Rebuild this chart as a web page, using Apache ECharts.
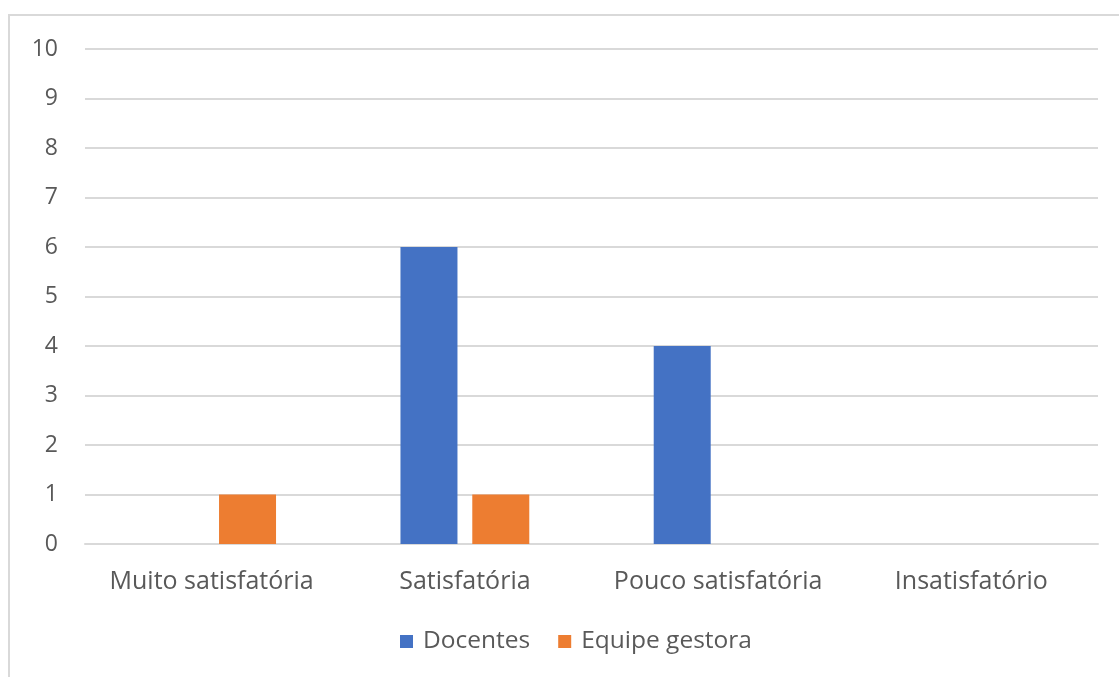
<!DOCTYPE html>
<html>
<head>
<meta charset="utf-8">
<script src="https://cdn.jsdelivr.net/npm/echarts@6/dist/echarts.min.js"></script>
<style>
  html, body { margin: 0; padding: 0; background: #fff; }
  #chart { width: 1119px; height: 677px; }
</style>
</head>
<body>
<div id="chart"></div>
<script>
const categorias = ['Muito satisfatória', 'Satisfatória', 'Pouco satisfatória', 'Insatisfatório']
const docentes = [0, 6, 4, 0]
const equipeGestora = [1, 1, 0, 0]
const yTicks = [0, 10, 1]  // min, max, interval

const chart = echarts.init(document.getElementById('chart'))

const fonte = '"Open Sans", "Noto Sans", sans-serif'

const option = {
  animation: false,
  textStyle: { fontFamily: fonte },
  graphic: [
    {
      type: 'rect',
      shape: { x: 9, y: 15, width: 1200, height: 700 },
      style: { fill: 'none', stroke: '#d9d9d9', lineWidth: 2 },
      silent: true
    }
  ],
  grid: {
    left: 85,
    right: 21,
    top: 49,
    bottom: 133
  },
  legend: {
    bottom: 18,
    left: 395,
    itemWidth: 13,
    itemHeight: 13,
    itemGap: 28,
    icon: 'rect',
    textStyle: { fontSize: 24.5, color: '#595959', fontFamily: fonte, padding: [0, 0, 0, 5] },
    data: ['Docentes', 'Equipe gestora']
  },
  xAxis: {
    type: 'category',
    data: categorias,
    axisLine: { show: true, lineStyle: { color: '#d9d9d9', width: 2 } },
    axisTick: { show: false },
    axisLabel: { interval: 0, fontSize: 25, color: '#595959', margin: 25, fontFamily: fonte }
  },
  yAxis: {
    type: 'value',
    min: yTicks[0],
    max: yTicks[1],
    interval: yTicks[2],
    axisLine: { show: false },
    axisTick: { show: false },
    axisLabel: { fontSize: 23, color: '#595959', margin: 27, fontFamily: fonte },
    splitLine: { lineStyle: { color: '#d9d9d9', width: 2 } }
  },
  series: [
    {
      name: 'Docentes',
      type: 'bar',
      data: docentes,
      barWidth: 57,
      barGap: '26%',
      itemStyle: { color: '#4472C4' }
    },
    {
      name: 'Equipe gestora',
      type: 'bar',
      data: equipeGestora,
      barWidth: 57,
      itemStyle: { color: '#ED7D31' }
    }
  ]
}

chart.setOption(option)
</script>
</body>
</html>
